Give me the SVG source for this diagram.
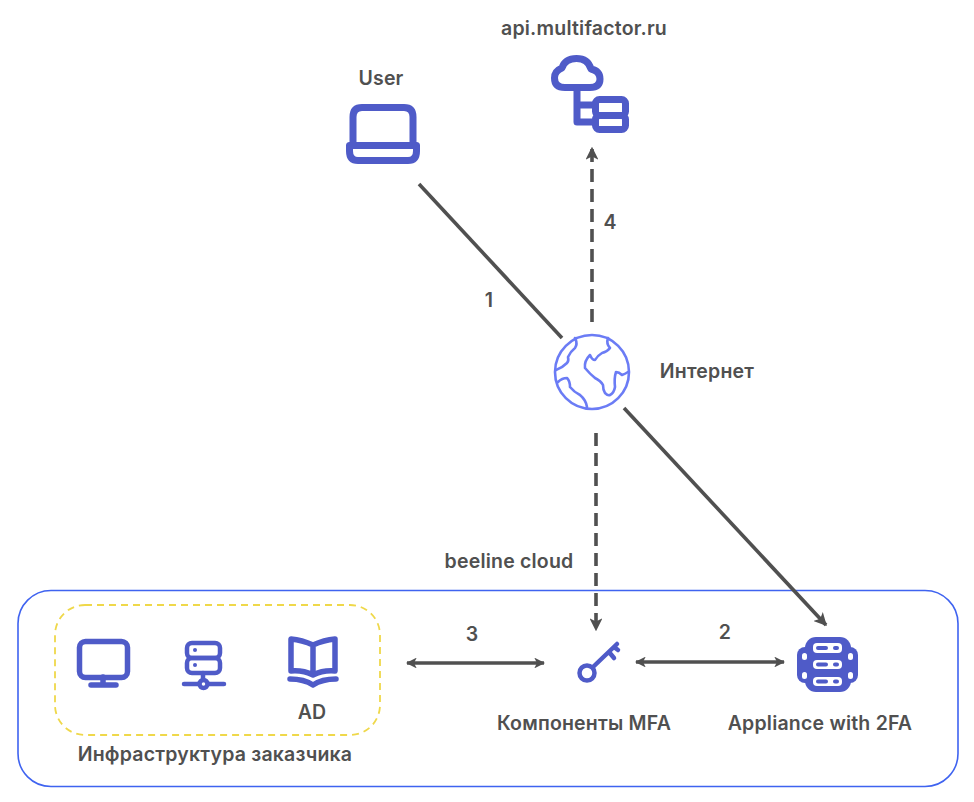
<svg xmlns="http://www.w3.org/2000/svg" width="974" height="802" viewBox="0 0 974 802">
<style>
text{font-family:"Inter","Liberation Sans",sans-serif;font-weight:600;font-size:19.5px;letter-spacing:.2px;fill:#505050;text-anchor:middle}
.ic{fill:none;stroke:#4f5bc8;stroke-width:7;stroke-linecap:round;stroke-linejoin:round}
.md{stroke-width:5.500}
.th{stroke-width:4.500}
.f{fill:#4f5bc8}
.w{fill:#fff}
.g{fill:none;stroke:#6b7cf5;stroke-width:2.600;stroke-linecap:round;stroke-linejoin:round}
.c{fill:none;stroke:#505050;stroke-width:3.600}
.d{stroke-dasharray:13 7}
</style>
<defs>
<marker id="a" viewBox="0 0 10 10" refX="9" refY="5" markerWidth="3.600" markerHeight="3.600" orient="auto-start-reverse"><path d="M0 0L10 5L0 10L2.500 5Z" fill="#505050"/></marker>
<marker id="b" viewBox="0 0 10 10" refX="9" refY="5" markerWidth="3" markerHeight="3" orient="auto-start-reverse"><path d="M0 0L10 5L0 10L2.500 5Z" fill="#505050"/></marker>
</defs>
<rect width="974" height="802" fill="#fff"/>
<g id="cloud-zone"><rect x="18" y="590.500" width="940" height="196" rx="33" fill="none" stroke="#3f63f0" stroke-width="1.600"/><text x="509" y="568">beeline cloud</text></g>
<g id="customer-zone"><rect x="55" y="605" width="325" height="130" rx="30" fill="none" stroke="#efd84a" stroke-width="1.800" stroke-dasharray="7 5"/><text x="215" y="761">Инфраструктура заказчика</text></g>
<g id="connectors">
<path class="c" d="M419 184L562 338"/>
<path class="c" d="M624 408L826 625" marker-end="url(#a)"/>
<path class="c d" d="M592 322V148" marker-end="url(#a)"/>
<path class="c d" d="M596 433V630" marker-end="url(#a)"/>
<path class="c" d="M407 663H544" marker-start="url(#b)" marker-end="url(#b)"/>
<path class="c" d="M636 662H784" marker-start="url(#b)" marker-end="url(#b)"/>
<text x="489" y="307">1</text><text x="610" y="229">4</text><text x="472" y="641">3</text><text x="725" y="639">2</text>
</g>
<g id="user"><text x="381" y="85">User</text>
<path class="ic" d="M353 145V117Q353 107.500 362 107.500H404Q413 107.500 413 117V145"/><path class="ic" d="M349.500 145.500H416.500V151Q416.500 160.500 408 160.500H358Q349.500 160.500 349.500 151Z"/></g>
<g id="api"><text x="584" y="35">api.multifactor.ru</text>
<path class="ic" d="M565 87.500Q554.500 87.500 554.500 78Q554.500 71 562 68Q565 58.500 576.500 58.500Q588 58.500 591 69Q600 71 600 79Q600 87.500 590 87.500Z"/>
<path class="ic" d="M577 88V122H594M577 105H594"/>
<rect class="ic" x="595.500" y="99.500" width="30" height="16" rx="4"/><rect class="ic" x="595.500" y="115.500" width="30" height="14" rx="4"/></g>
<g id="internet"><circle class="g" cx="592" cy="372" r="37"/>
<path class="g" d="M575 338Q578 344 575 348Q571 351 568 357Q569 361 567 363Q562 368 556 370"/>
<path class="g" d="M558 382Q562 378 567 378Q570 381 570 387Q574 392 580 395Q586 400 587 407"/>
<path class="g" d="M608 338Q606 344 610 348Q607 352 602 353Q597 356 595 360Q592 360 590 355Q584 361 585 368Q590 374 595 378Q601 381 603 385Q603 390 605 393Q608 396 610 395Q614 393 615 387Q614 378 616 372Q619 372 622 375Q625 374 628 372"/>
<text x="707" y="378">Интернет</text></g>
<g id="monitor"><rect class="ic md" x="79.500" y="641.500" width="48" height="36" rx="6"/><path class="ic md" d="M103 677V685M91 685H116"/></g>
<g id="server"><rect class="ic th" x="187" y="643" width="33" height="15" rx="5"/><rect class="ic th" x="187" y="658" width="33" height="15" rx="5"/><circle cx="195" cy="650" r="2" class="f"/><circle cx="195" cy="665" r="2" class="f"/><path class="ic th" d="M203 673V680M184 684H198M209 684H224"/><circle class="ic th" cx="203.500" cy="684" r="4"/></g>
<g id="ad"><path class="ic md" d="M313 645Q302 640 291 639V671Q303 670 313 675Q323 670 335 671V639Q324 640 313 645ZM313 645V675"/><path class="ic md" d="M290 679Q304 679 313 685Q322 679 336 679"/><text x="312" y="719">AD</text></g>
<g id="key"><circle class="ic th" cx="587" cy="673" r="7.500"/><path class="ic th" d="M593 667L617 644M609 652L614 658M614 647L618 650"/><text x="584" y="730">Компоненты MFA</text></g>
<g id="appliance"><rect class="f" x="805" y="637" width="46" height="55" rx="11"/><rect class="f" x="797" y="647" width="61" height="36" rx="8"/>
<rect class="w" x="802" y="653" width="5" height="7" rx="2.500"/><rect class="w" x="802" y="672" width="5" height="7" rx="2.500"/><rect class="w" x="848" y="653" width="5" height="7" rx="2.500"/><rect class="w" x="848" y="672" width="5" height="7" rx="2.500"/>
<rect class="w" x="813" y="643" width="29" height="10" rx="4"/><rect class="w" x="813" y="660" width="29" height="9" rx="4"/><rect class="w" x="813" y="677" width="29" height="9" rx="4"/>
<path d="M818 648H826M818 664.500H826M818 681.500H826M835 648H837M835 664.500H837M835 681.500H837" fill="none" stroke="#4f5bc8" stroke-width="4" stroke-linecap="round"/>
<text x="820" y="730">Appliance with 2FA</text></g>
</svg>
